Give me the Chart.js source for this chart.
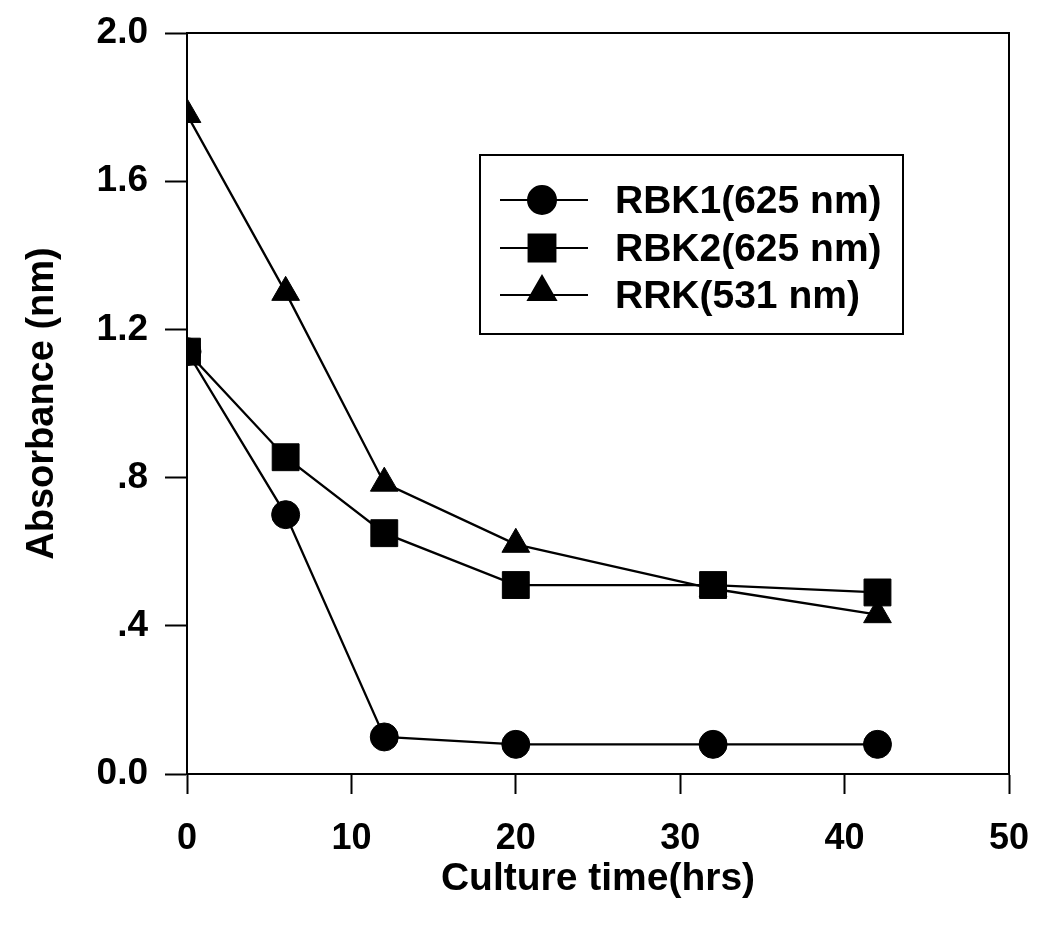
<!DOCTYPE html>
<html>
<head>
<meta charset="utf-8">
<script src="https://cdn.jsdelivr.net/npm/chart.js@4"></script>
<style>
    html, body { margin: 0; padding: 0; background: #fff; }
    #wrap { width: 1058px; height: 926px; }
</style>
</head>
<body>
<div id="wrap"><canvas id="absChart" width="1058" height="926"></canvas></div>
<script>
// Culture time (hrs) and absorbance readings
const timeHrs = [0, 6, 12, 20, 32, 42];
const rbk1 = [1.14, 0.70, 0.10, 0.08, 0.08, 0.08];
const rbk2 = [1.14, 0.855, 0.65, 0.51, 0.51, 0.49];
const rrk = [1.78, 1.30, 0.785, 0.62, 0.50, 0.43];

const seriesLabels = ['RBK1(625 nm)', 'RBK2(625 nm)', 'RRK(531 nm)'];
const FONT = '"Liberation Sans", Arial, Helvetica, sans-serif';

const toPoints = (ys) => ys.map((y, i) => ({ x: timeHrs[i], y }));

// Box around the plot area
const frame = {
    id: 'frame',
    afterDatasetsDraw(chart) {
        const { ctx, chartArea: a } = chart;
        ctx.save();
        ctx.strokeStyle = '#000';
        ctx.lineWidth = 2;
        ctx.strokeRect(a.left, a.top, a.right - a.left, a.bottom - a.top);
        ctx.restore();
    }
};

// Legend drawn like the original: line through marker, boxed
const boxLegend = {
    id: 'boxLegend',
    afterDraw(chart) {
        const { ctx } = chart;
        const box = { left: 480, top: 155, right: 903, bottom: 334 };
        const rows = [200, 248, 295];
        ctx.save();
        ctx.strokeStyle = '#000';
        ctx.lineWidth = 2;
        ctx.strokeRect(box.left, box.top, box.right - box.left, box.bottom - box.top);
        chart.data.datasets.forEach((ds, i) => {
            const y = rows[i];
            ctx.strokeStyle = '#000';
            ctx.lineWidth = 2;
            ctx.beginPath();
            ctx.moveTo(500, y);
            ctx.lineTo(588, y);
            ctx.stroke();
            ctx.fillStyle = '#000';
            Chart.helpers.drawPoint(ctx, {
                pointStyle: ds.pointStyle,
                radius: ds.pointRadius,
                rotation: 0,
                borderWidth: 1
            }, 542, ds.pointStyle === 'triangle' ? y - 3 : y);
            ctx.fillStyle = '#000';
            ctx.font = 'bold 39px ' + FONT;
            ctx.textAlign = 'left';
            ctx.textBaseline = 'middle';
            ctx.fillText(ds.label, 615, y + 2);
        });
        ctx.restore();
    }
};

const lineSet = (label, data, style, radius) => ({
    label,
    data: toPoints(data),
    borderColor: '#000',
    backgroundColor: '#000',
    borderWidth: 2.3,
    pointStyle: style,
    pointRadius: radius,
    pointBackgroundColor: '#000',
    pointBorderColor: '#000',
    pointBorderWidth: 1,
    tension: 0
});

new Chart(document.getElementById('absChart'), {
    type: 'line',
    data: {
        datasets: [
            lineSet(seriesLabels[0], rbk1, 'circle', 14),
            lineSet(seriesLabels[1], rbk2, 'rect', 19),
            lineSet(seriesLabels[2], rrk, 'triangle', 16)
        ]
    },
    options: {
        responsive: false,
        animation: false,
        layout: { padding: { top: 33, right: 49, bottom: 0, left: 0 } },
        plugins: {
            legend: { display: false },
            tooltip: { enabled: false }
        },
        scales: {
            x: {
                type: 'linear',
                min: 0,
                max: 50,
                afterFit: (s) => { s.height = 152; },
                ticks: {
                    stepSize: 10,
                    color: '#000',
                    padding: 23,
                    font: { family: FONT, size: 36, weight: 'bold' }
                },
                grid: {
                    drawOnChartArea: false,
                    tickLength: 20,
                    tickWidth: 2,
                    color: '#000'
                },
                border: { color: '#000', width: 2 },
                title: {
                    display: true,
                    text: 'Culture time(hrs)',
                    color: '#000',
                    padding: { bottom: 23 },
                    font: { family: FONT, size: 39, weight: 'bold' }
                }
            },
            y: {
                min: 0,
                max: 2,
                afterFit: (s) => {
                    s.width = 187;
                    s.paddingTop = 0;
                    s.paddingBottom = 0;
                },
                ticks: {
                    stepSize: 0.4,
                    color: '#000',
                    padding: 17,
                    font: { family: FONT, size: 37, weight: 'bold' },
                    callback: (v) => {
                        const t = Number(v).toFixed(1);
                        return (v > 0 && v < 1) ? t.slice(1) : t;
                    }
                },
                grid: {
                    drawOnChartArea: false,
                    tickLength: 22,
                    tickWidth: 2,
                    color: '#000'
                },
                border: { color: '#000', width: 2 },
                title: {
                    display: true,
                    text: 'Absorbance (nm)',
                    color: '#000',
                    padding: { top: 20 },
                    font: { family: FONT, size: 38, weight: 'bold' }
                }
            }
        }
    },
    plugins: [frame, boxLegend]
});
</script>
</body>
</html>
